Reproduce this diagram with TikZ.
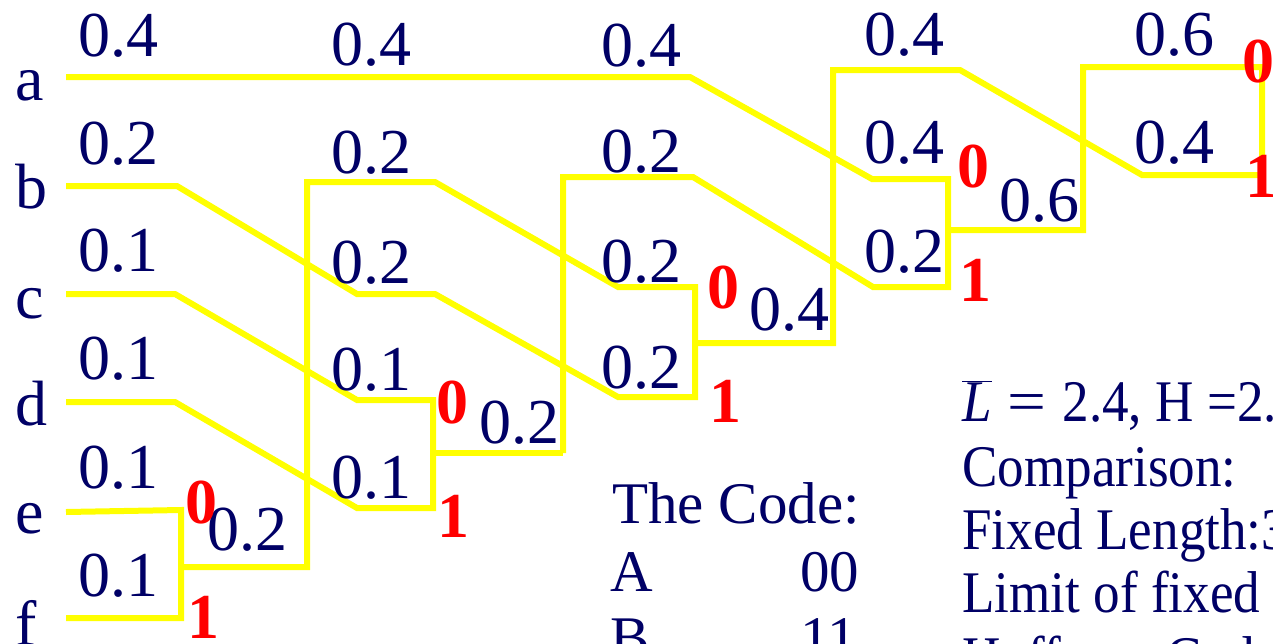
\documentclass[tikz,border=0pt]{standalone}
\usepackage{graphicx}
\usepackage{fontspec}
\setmainfont{Liberation Serif}
\definecolor{navy}{RGB}{0,0,102}
\definecolor{ylw}{RGB}{255,255,0}
\begin{document}
\begin{tikzpicture}[x=1pt,y=-1pt,
  lbl/.style={anchor=base west,inner sep=0pt,text=navy,font=\fontsize{64}{65}\selectfont},
  txt/.style={anchor=base west,inner sep=0pt,text=navy,font=\fontsize{59}{60}\selectfont},
  bit/.style={anchor=base west,inner sep=0pt,text=red,font=\fontsize{64}{65}\selectfont\bfseries},
  wire/.style={draw=ylw,line width=6pt,line join=miter}]
\clip (0,0) rectangle (1273,643);
\fill[white] (0,0) rectangle (1273,643);
% coordinates
\coordinate (a0) at (66,77);   \coordinate (a1) at (690,77);  \coordinate (a2) at (872,179); \coordinate (a3) at (948,179);
\coordinate (b0) at (66,186);  \coordinate (b1) at (177,186); \coordinate (b2) at (357,294); \coordinate (b3) at (435,294); \coordinate (b4) at (618,397); \coordinate (b5) at (695,397);
\coordinate (c0) at (66,294);  \coordinate (c1) at (175,294); \coordinate (c2) at (357,400); \coordinate (c3) at (433,400);
\coordinate (d0) at (66,402);  \coordinate (d1) at (175,402); \coordinate (d2) at (357,508); \coordinate (d3) at (433,508);
\coordinate (e0) at (66,512);  \coordinate (e1) at (181,510);
\coordinate (f0) at (66,618);  \coordinate (f1) at (181,618);
\coordinate (ef0) at (181,567); \coordinate (ef1) at (307,567); \coordinate (ef2) at (307,182); \coordinate (ef3) at (435,182); \coordinate (ef4) at (618,287); \coordinate (ef5) at (695,287);
\coordinate (cd0) at (433,453); \coordinate (cd1) at (563,453); \coordinate (cd2) at (563,177); \coordinate (cd3) at (693,177); \coordinate (cd4) at (873,287); \coordinate (cd5) at (948,287);
\coordinate (g0) at (695,343); \coordinate (g1) at (833,343); \coordinate (g2) at (833,70); \coordinate (g3) at (960,70); \coordinate (g4) at (1142,175); \coordinate (g5) at (1262,175);
\coordinate (h0) at (948,230); \coordinate (h1) at (1083,230); \coordinate (h2) at (1083,67); \coordinate (h3) at (1262,67);
% wires
\draw[wire] (a0) -- (a1) -- (a2) -- (a3) -- (cd5) -- (cd4) -- (cd3) -- (cd2) -- (cd1);
\draw[wire] (b0) -- (b1) -- (b2) -- (b3) -- (b4) -- (b5) -- (ef5) -- (ef4) -- (ef3) -- (ef2) -- (ef1) -- (ef0);
\draw[wire] (c0) -- (c1) -- (c2) -- (c3) -- (d3) -- (d2) -- (d1) -- (d0);
\draw[wire] (e0) -- (e1) -- (f1) -- (f0);
\draw[wire] (cd0) -- (cd1);
\draw[wire] (g0) -- (g1) -- (g2) -- (g3) -- (g4) -- (g5) -- (h3) -- (h2) -- (h1) -- (h0);
% symbols
\node[lbl] (sa) at (15,100) {a};
\node[lbl] (sb) at (15,208) {b};
\node[lbl] (sc) at (15,318) {c};
\node[lbl] (sd) at (15,425) {d};
\node[lbl] (se) at (15,533) {e};
\node[lbl] (sf) at (15,645) {f};
% column 0
\node[lbl] (p00) at (78,56) {0.4};
\node[lbl] (p01) at (78,164) {0.2};
\node[lbl] (p02) at (78,271) {0.1};
\node[lbl] (p03) at (78,379) {0.1};
\node[lbl] (p04) at (78,488) {0.1};
\node[lbl] (p05) at (78,596) {0.1};
% column 1
\node[lbl] (p10) at (331,65) {0.4};
\node[lbl] (p11) at (331,173) {0.2};
\node[lbl] (p12) at (331,283) {0.2};
\node[lbl] (p13) at (331,390) {0.1};
\node[lbl] (p14) at (331,498) {0.1};
% column 2
\node[lbl] (p20) at (601,66) {0.4};
\node[lbl] (p21) at (601,172) {0.2};
\node[lbl] (p22) at (601,282) {0.2};
\node[lbl] (p23) at (601,388) {0.2};
% column 3
\node[lbl] (p30) at (864,55) {0.4};
\node[lbl] (p31) at (864,163) {0.4};
\node[lbl] (p32) at (864,272) {0.2};
% column 4
\node[lbl] (p40) at (1134,55) {0.6};
\node[lbl] (p41) at (1134,163) {0.4};
% merged sums
\node[lbl] (m1) at (207,550) {0.2};
\node[lbl] (m2) at (479,443) {0.2};
\node[lbl] (m3) at (749,330) {0.4};
\node[lbl] (m4) at (999,221) {0.6};
% bits
\node[bit] (z1) at (185,523) {0};
\node[bit] (o1) at (187,638) {1};
\node[bit] (z2) at (436,423) {0};
\node[bit] (o2) at (437,537) {1};
\node[bit] (z3) at (707,308) {0};
\node[bit] (o3) at (709,422) {1};
\node[bit] (z4) at (957,187) {0};
\node[bit] (o4) at (959,301) {1};
\node[bit] (z5) at (1242,82) {0};
\node[bit] (o5) at (1245,197) {1};
% code table
\node[txt] (code) at (612,523) {The Code:};
\node[txt] (cA) at (610,591) {A};
\node[txt] (cA2) at (800,591) {00};
\node[txt] (cB) at (610,657) {B};
\node[txt] (cB2) at (800,657) {11};
% comparison
\node[txt] (r1) at (962,421) {\scalebox{0.9}[1]{$\overline{\mbox{\itshape L}}$\hspace{0.3em}\scalebox{1.3}[1]{=}\hspace{0.3em}2.4, H =2.32}};
\node[txt] (r2) at (962,486) {\scalebox{0.9}[1]{Comparison:}};
\node[txt] (r3) at (962,549) {\scalebox{0.9}[1]{Fixed Length:3}};
\node[txt] (r4) at (962,612) {\scalebox{0.9}[1]{Limit of fixed length}};
\node[txt] (r5) at (962,677) {\scalebox{0.9}[1]{Huffman Code:}};
\end{tikzpicture}
\end{document}
